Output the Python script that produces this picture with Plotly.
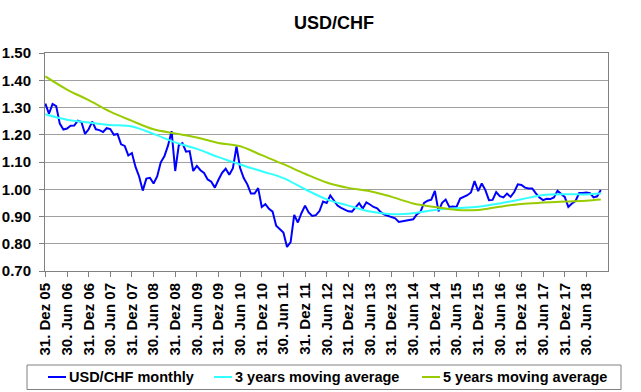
import plotly.graph_objects as go

# Month-end USD/CHF, Dec 2005 .. Oct 2018
usd_chf_monthly = [
    1.314,
    1.277, 1.313, 1.305, 1.241, 1.219, 1.223, 1.233, 1.234, 1.252, 1.247, 1.203, 1.220,
    1.248, 1.220, 1.217, 1.210, 1.224, 1.221, 1.200, 1.203, 1.165, 1.159, 1.124, 1.133,
    1.082, 1.047, 0.995, 1.039, 1.042, 1.021, 1.047, 1.099, 1.121, 1.160, 1.213, 1.067,
    1.162, 1.169, 1.138, 1.140, 1.067, 1.086, 1.070, 1.060, 1.036, 1.028, 1.006, 1.035,
    1.060, 1.075, 1.053, 1.077, 1.157, 1.078, 1.041, 1.018, 0.984, 0.984, 1.004, 0.935,
    0.945, 0.928, 0.918, 0.866, 0.852, 0.841, 0.788, 0.806, 0.906, 0.878, 0.912, 0.940,
    0.915, 0.902, 0.905, 0.920, 0.955, 0.950, 0.977, 0.956, 0.940, 0.932, 0.926, 0.919,
    0.918, 0.935, 0.949, 0.929, 0.952, 0.944, 0.935, 0.930, 0.916, 0.907, 0.903, 0.897,
    0.893, 0.880, 0.882, 0.884, 0.886, 0.890, 0.908, 0.917, 0.950, 0.958, 0.962, 0.994,
    0.919, 0.950, 0.962, 0.935, 0.937, 0.935, 0.966, 0.972, 0.978, 0.988, 1.030, 0.993,
    1.021, 0.997, 0.960, 0.961, 0.990, 0.975, 0.970, 0.984, 0.972, 0.990, 1.018, 1.016,
    1.006, 1.003, 1.003, 0.985, 0.970, 0.960, 0.965, 0.964, 0.970, 0.994, 0.982, 0.972,
    0.935, 0.948, 0.957, 0.986, 0.986, 0.988, 0.986, 0.970, 0.974, 0.997,
]
month_index = list(range(len(usd_chf_monthly)))

# Moving averages, sampled every 6 months (month index from Dec 2005)
ma_months = [0, 6, 12, 18, 24, 30, 36, 42, 48, 54, 60, 66, 72, 78, 84, 90, 96,
             102, 108, 114, 120, 126, 132, 138, 144, 150, 154]
ma_3y = [1.275, 1.255, 1.245, 1.236, 1.230, 1.203, 1.172, 1.148, 1.118, 1.091,
         1.066, 1.041, 1.000, 0.963, 0.940, 0.918, 0.908, 0.912, 0.924, 0.930,
         0.936, 0.948, 0.963, 0.979, 0.982, 0.981, 0.984]
ma_5y = [1.414, 1.366, 1.327, 1.285, 1.251, 1.220, 1.205, 1.190, 1.170, 1.158,
         1.125, 1.092, 1.057, 1.025, 1.005, 0.993, 0.972, 0.948, 0.935, 0.924,
         0.924, 0.936, 0.946, 0.951, 0.955, 0.958, 0.962]

tick_months = [0, 6, 12, 18, 24, 30, 36, 42, 48, 54, 60, 66, 72, 78, 84, 90, 96,
               102, 108, 114, 120, 126, 132, 138, 144, 150]
tick_labels = ["31. Dez 05", "30. Jun 06", "31. Dez 06", "30. Jun 07", "31. Dez 07",
               "30. Jun 08", "31. Dez 08", "30. Jun 09", "31. Dez 09", "30. Jun 10",
               "31. Dez 10", "30. Jun 11", "31. Dez 11", "30. Jun 12", "31. Dez 12",
               "30. Jun 13", "31. Dez 13", "30. Jun 14", "31. Dez 14", "30. Jun 15",
               "31. Dez 15", "30. Jun 16", "31. Dez 16", "30. Jun 17", "31. Dez 17",
               "30. Jun 18"]
y_ticks = [0.70, 0.80, 0.90, 1.00, 1.10, 1.20, 1.30, 1.40, 1.50]

series_names = ["USD/CHF monthly", "3 years moving average", "5 years moving average"]
series_colors = ["#0000FF", "#33FFFF", "#99CC00"]

FONT = "Liberation Sans, Arial, sans-serif"
W, H = 641, 392
# plot area in page pixels: x 45..608, y 53..271
ML, MT = 45, 53
MR, MB = W - 608, H - 271
PW, PH = W - ML - MR, H - MT - MB


def px_x(px):
    return (px - ML) / PW


def px_y(py):
    return (H - MB - py) / PH


fig = go.Figure()
fig.add_trace(go.Scatter(x=month_index, y=usd_chf_monthly, mode="lines",
                         name=series_names[0],
                         line=dict(color=series_colors[0], width=2)))
fig.add_trace(go.Scatter(x=ma_months, y=ma_3y, mode="lines",
                         name=series_names[1],
                         line=dict(color=series_colors[1], width=2, shape="spline")))
fig.add_trace(go.Scatter(x=ma_months, y=ma_5y, mode="lines",
                         name=series_names[2],
                         line=dict(color=series_colors[2], width=2, shape="spline")))

# Legend drawn as a boxed row (Excel-style short line samples)
legend_text_x = [67, 233, 441]
legend_y = 377
shapes = [dict(type="rect", xref="paper", yref="paper",
               x0=px_x(27), x1=px_x(621), y0=px_y(389.5), y1=px_y(365),
               line=dict(color="#808080", width=1), fillcolor="white", layer="below")]
annotations = []
for name, color, tx in zip(series_names, series_colors, legend_text_x):
    shapes.append(dict(type="line", xref="paper", yref="paper",
                       x0=px_x(tx - 19), x1=px_x(tx - 1),
                       y0=px_y(legend_y), y1=px_y(legend_y),
                       line=dict(color=color, width=2)))
    annotations.append(dict(text="<b>%s</b>" % name, xref="paper", yref="paper",
                            x=px_x(tx), y=px_y(legend_y), xanchor="left",
                            yanchor="middle", showarrow=False,
                            font=dict(size=14.5, family=FONT, color="black")))

fig.update_layout(
    template="none",
    width=W, height=H,
    margin=dict(l=ML, r=MR, t=MT, b=MB, pad=0, autoexpand=False),
    paper_bgcolor="white", plot_bgcolor="white",
    font=dict(family=FONT, color="black"),
    title=dict(text="<b>USD/CHF</b>", x=334 / W, xanchor="center",
               y=1 - 23 / H, yanchor="middle",
               font=dict(size=18, family=FONT, color="black")),
    showlegend=False,
    hovermode=False,
    shapes=shapes,
    annotations=annotations,
)
fig.update_xaxes(
    range=[-0.1, 156], tickmode="array", tickvals=tick_months,
    ticktext=["<b>%s</b>" % t for t in tick_labels], tickangle=-90,
    ticks="outside", ticklen=5, tickcolor="#808080", tickwidth=1,
    showline=True, linecolor="#808080", linewidth=1, mirror=True,
    showgrid=False, zeroline=False, automargin=False,
    tickfont=dict(size=15, family=FONT, color="black"),
)
fig.update_yaxes(
    range=[0.70, 1.50], tickmode="array", tickvals=y_ticks,
    ticktext=["<b>%.2f</b>" % v for v in y_ticks],
    ticks="outside", ticklen=5, tickcolor="#808080", tickwidth=1,
    showline=True, linecolor="#808080", linewidth=1, mirror=True,
    showgrid=True, gridcolor="#A0A0A0", gridwidth=1, zeroline=False,
    automargin=False, ticklabelstandoff=5,
    tickfont=dict(size=15, family=FONT, color="black"),
)

fig.write_html("out.html", config={"displayModeBar": False},
               post_script="document.body.style.margin='0';")
